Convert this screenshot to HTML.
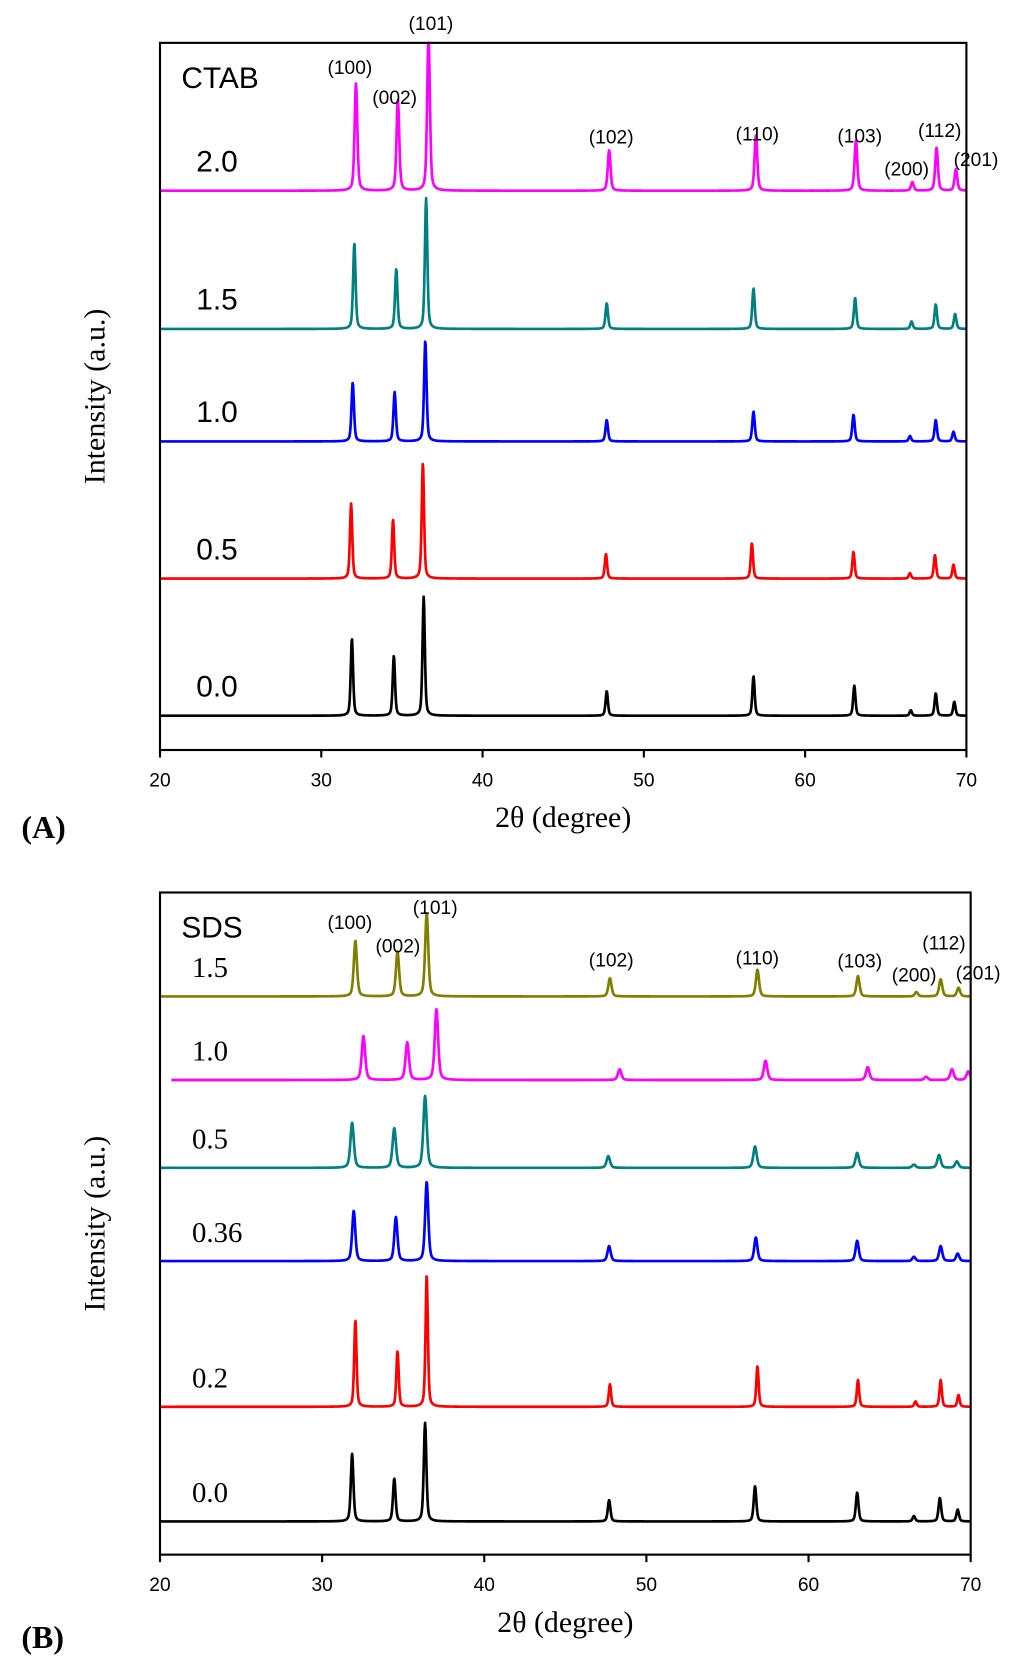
<!DOCTYPE html>
<html><head><meta charset="utf-8"><style>
html,body{margin:0;padding:0;background:#fff;}
svg{display:block;}
.tk{font-family:"Liberation Sans",sans-serif;font-size:18px;}
.pk{font-family:"Liberation Sans",sans-serif;font-size:18px;}
.sm{font-family:"Liberation Sans",sans-serif;font-size:28px;}
.smb{font-family:"Liberation Serif",serif;font-size:27px;}
.ti{font-family:"Liberation Serif",serif;font-size:28px;}
</style></head><body>
<svg id="fig" width="1024" height="1680" viewBox="0 0 960 1568" preserveAspectRatio="none" xmlns="http://www.w3.org/2000/svg"></svg>
<script>
// ---- data ----
const ticksX = [20,30,40,50,60,70];
const peakNamesA = ["(100)","(002)","(101)","(102)","(110)","(103)","(200)","(112)","(201)"];
// Panel A (CTAB)
const samplesA = ["0.0","0.5","1.0","1.5","2.0"];
const colorsA = ["#000000","#ff0000","#0000ff","#008080","#ff00ff"];
const offsetsA = [0,128,256,361,490];
const posA = [
 [31.9,34.5,36.35,47.7,56.8,63.05,66.55,68.1,69.25],
 [31.85,34.45,36.3,47.65,56.7,63.0,66.5,68.05,69.2],
 [31.95,34.55,36.45,47.7,56.8,63.0,66.5,68.1,69.2],
 [32.05,34.65,36.5,47.7,56.8,63.1,66.6,68.1,69.3],
 [32.15,34.75,36.65,47.85,56.95,63.15,66.65,68.15,69.35]
];
const intA = [
 [72,56,111,23,37,28,5,21,13],
 [70,55,108,23,33,25,5,22,13],
 [55,46,94,20,28,25,5,20,9],
 [80,56,122,24,38,29,7,23,14],
 [100,85,145,38,52,47,8,40,20]
];
const widthA = [0.17,0.17,0.18,0.18,0.2];
// Panel B (SDS)
const samplesB = ["0.0","0.2","0.36","0.5","1.0","1.5"];
const colorsB = ["#000000","#ff0000","#0000ff","#008080","#ff00ff","#808000"];
const offsetsB = [0,107,243,330,412,490];
const posB = [
 [31.85,34.45,36.35,47.7,56.7,63.0,66.5,68.1,69.2],
 [32.05,34.65,36.45,47.75,56.85,63.05,66.6,68.15,69.25],
 [31.95,34.55,36.45,47.7,56.75,63.0,66.5,68.15,69.2],
 [31.85,34.45,36.35,47.65,56.7,63.0,66.5,68.05,69.15],
 [32.55,35.25,37.05,48.35,57.35,63.65,67.25,68.85,69.85],
 [32.05,34.65,36.45,47.75,56.85,63.05,66.65,68.15,69.25]
];
const intB = [
 [63,40,92,20,33,27,5,22,11],
 [81,52,123,21,38,25,5,25,11],
 [47,41,74,14,22,19,4,14,7],
 [42,37,67,11,20,14,3,12,6],
 [41,35,66,10,18,12,3,10,8],
 [52,42,78,17,25,19,4,16,8]
];
const widthB = [0.19,0.17,0.23,0.25,0.25,0.23];
const startB = [20,20,20,20,20.7,20];

const NS="http://www.w3.org/2000/svg";
const svg=document.getElementById('fig');
function mk(tag,attrs,parent){const e=document.createElementNS(NS,tag);for(const k in attrs)e.setAttribute(k,attrs[k]);(parent||svg).appendChild(e);return e;}

function panel(cfg){
  const g=mk('g',{});
  
  
  const X=v=>cfg.left+(v-20)/50*(cfg.right-cfg.left);
  const Y=v=>cfg.base-v;
  cfg.samples.forEach((s,i)=>{
    let d='';
    for(let x=cfg.start[i];x<=70.0001;x+=0.03){
      let y=0;
      cfg.pos[i].forEach((p,j)=>{const w=cfg.width[i];const t=(x-p)/w;
        y+=cfg.ints[i][j]*(0.55*Math.exp(-t*t*2.77)+0.45/(1+t*t*4));});
      y=Math.min(y+cfg.offsets[i], cfg.base-cfg.top);
      d+=(d?'L':'M')+X(x).toFixed(2)+','+Y(y).toFixed(2);
    }
    const p=mk('path',{d:d,fill:'none',stroke:cfg.colors[i],'stroke-width':2.5,'stroke-linejoin':'round'},g);
    
    
    const t=mk('text',{x:cfg.labelX,y:Y(cfg.offsets[i])-18,class:cfg.labelClass},g);
    t.textContent=s;
    
    
  });
  const r=mk('rect',{x:cfg.left,y:cfg.top,width:cfg.right-cfg.left,height:cfg.bottom-cfg.top,fill:'none',stroke:'#000','stroke-width':2},g);
  
  
  ticksX.forEach(v=>{
    const l=mk('line',{x1:X(v),x2:X(v),y1:cfg.bottom,y2:cfg.bottom+7,stroke:'#000','stroke-width':2},g);
    
    
    const t=mk('text',{x:X(v),y:cfg.bottom+34,'text-anchor':'middle',class:'tk'},g);
    t.textContent=v;
    
    
  });
  cfg.peakLab.forEach((pl,j)=>{
    const t=mk('text',{x:pl[0],y:pl[1],'text-anchor':'middle',class:'pk'},g);
    t.textContent=peakNamesA[j];
    
    
  });
  const ct=mk('text',{x:cfg.left+20,y:cfg.top+42,class:'sm'},g);
  ct.textContent=cfg.surf;
  
  
  const xt=mk('text',{x:(cfg.left+cfg.right)/2,y:cfg.bottom+72,'text-anchor':'middle',class:'ti'},g);
  xt.textContent='2θ (degree)';
  
  
  const yc=(cfg.top+cfg.bottom)/2;
  const yt=mk('text',{x:98,y:yc,'text-anchor':'middle',class:'ti',transform:'rotate(-90 98 '+yc+')'},g);
  yt.textContent='Intensity (a.u.)';
  
  
  const pt=mk('text',{x:20,y:cfg.panelY,'font-family':'Liberation Serif, serif','font-size':30,'font-weight':'bold'},g);
  pt.textContent=cfg.panel;
  
  
}

panel({name:'panel-a-ctab',tag:'a',left:150,right:906,top:40,bottom:700,base:668,
  samples:samplesA,colors:colorsA,offsets:offsetsA,pos:posA,ints:intA,width:widthA,start:[20,20,20,20,20],
  labelX:184,labelClass:'sm',surf:'CTAB',panel:'(A)',panelY:782,
  peakLab:[[328,69],[370,97],[404,28],[573,134],[710,131],[806,133],[850,164],[881,128],[915,155]]});
panel({name:'panel-b-sds',tag:'b',left:150,right:910,top:833,bottom:1451,base:1420,
  samples:samplesB,colors:colorsB,offsets:offsetsB,pos:posB,ints:intB,width:widthB,start:startB,
  labelX:180,labelClass:'smb',surf:'SDS',panel:'(B)',panelY:1538,
  peakLab:[[328,867],[373,889],[408,853],[573,902],[710,900],[806,903],[857,916],[885,886],[917,914]]});
</script>
</body></html>
